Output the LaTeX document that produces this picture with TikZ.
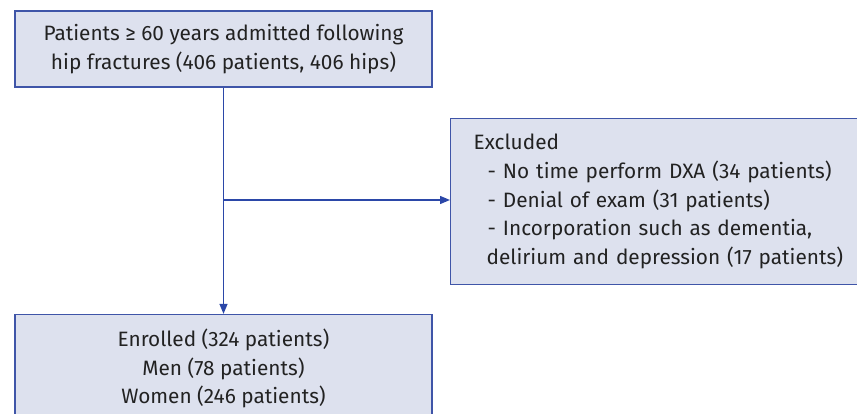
\documentclass[tikz,border=0pt]{standalone}
\usepackage{fontspec}
\setmainfont{Fira Sans}[Scale=1]
\usetikzlibrary{arrows.meta}
\definecolor{boxfill}{HTML}{DDE1EE}
\definecolor{boxline}{HTML}{3F55A8}
\definecolor{arrcol}{HTML}{2B47A8}
\definecolor{txt}{HTML}{222222}
\tikzset{
  box/.style={draw=boxline, fill=boxfill, line width=1.3pt, text=txt, inner sep=0pt,
    font=\fontsize{20.8}{28.7}\selectfont},
  arr/.style={draw=arrcol, line width=1.3pt, -{Triangle[length=10pt,width=8pt]}}
}
\begin{document}
\begin{tikzpicture}[x=1pt,y=-1pt]
\useasboundingbox (0,0) rectangle (857,414);
\clip (0,0) rectangle (857,414);
\node[box, minimum width=417pt, minimum height=76pt, align=center] (top) at (223.5,49)
  {Patients ≥ 60 years admitted following\\hip fractures (406 patients, 406 hips)};
\node[box, minimum width=420pt, minimum height=166pt, align=left, anchor=west,
  text width=374pt, inner xsep=23pt] (excl) at (450,201.5)
  {Excluded\\
   \hspace*{14pt}- No time perform DXA (34 patients)\\
   \hspace*{14pt}- Denial of exam (31 patients)\\
   \hspace*{14pt}- Incorporation such as dementia,\\
   \hspace*{13pt}delirium and depression (17 patients)};
\node[box, minimum width=417pt, minimum height=108pt, align=center] (enr) at (223.5,368.5)
  {Enrolled (324 patients)\\Men (78 patients)\\Women (246 patients)};
\coordinate (j) at (top.south |- 0,200);
\draw[arr] (top.south) -- (enr.north);
\draw[arr] (j) -- (j -| excl.west);
\end{tikzpicture}
\end{document}
